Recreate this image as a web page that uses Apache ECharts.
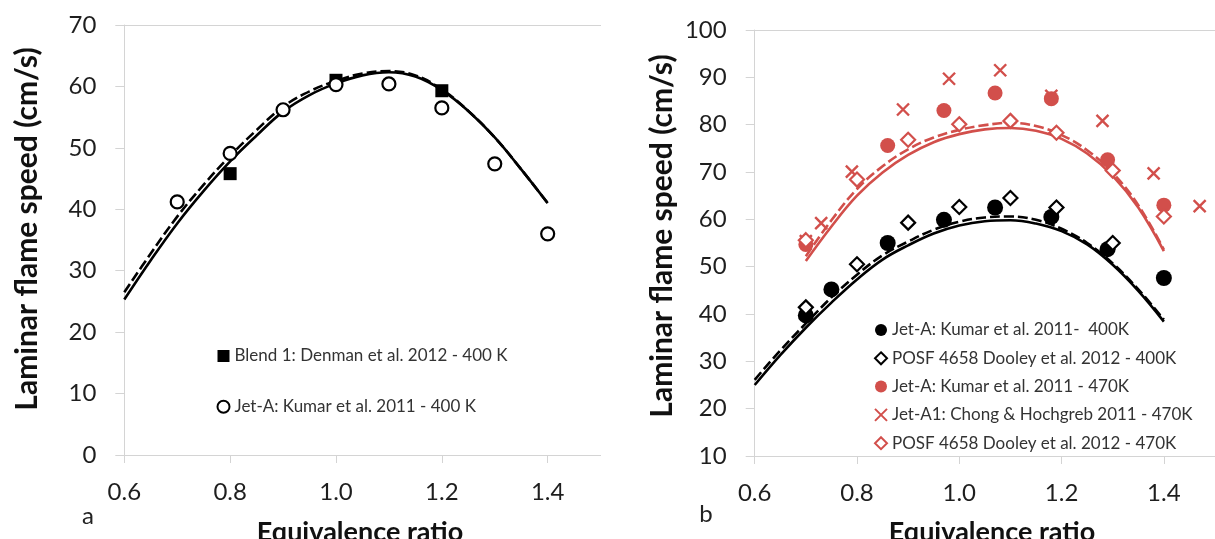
<!DOCTYPE html>
<html><head><meta charset="utf-8">
<script src="https://cdn.jsdelivr.net/npm/echarts@6/dist/echarts.min.js"></script>
<style>html,body{margin:0;padding:0;background:#fff}#c{width:1215px;height:539px}</style>
</head><body><div id="c"></div>
<script>
// ---------- data ----------
const xTicks = [0.6, 0.8, 1.0, 1.2, 1.4];

// panel a
const phiCurveA = [0.60,0.65,0.70,0.75,0.80,0.85,0.90,0.95,1.00,1.05,1.10,1.15,1.20,1.25,1.30,1.35,1.40];
const solidA  = [25.3,31.7,37.7,43.0,47.8,52.0,55.9,58.6,60.5,61.8,62.3,61.6,59.4,56.0,51.7,46.5,41.0];
const dashedA = [26.5,32.8,38.8,44.0,48.7,52.9,56.7,59.2,60.9,62.1,62.5,61.8,59.5,56.0,51.7,46.5,41.0];
const blendPhi   = [0.8, 1.0, 1.2];
const blendSpeed = [45.8, 61.0, 59.3];
const kumarPhiA   = [0.7, 0.8, 0.9, 1.0, 1.1, 1.2, 1.3, 1.4];
const kumarSpeedA = [41.2, 49.1, 56.2, 60.3, 60.4, 56.5, 47.4, 36.0];

// panel b
const phiCurveB = [0.60,0.65,0.70,0.75,0.80,0.85,0.90,0.95,1.00,1.05,1.10,1.15,1.20,1.25,1.30,1.35,1.40];
const solid400  = [25.0,31.3,37.1,42.4,47.3,51.5,54.5,57.0,58.7,59.6,59.8,59.1,57.5,54.7,50.4,44.9,38.4];
const dashed400 = [26.1,32.3,38.0,43.5,48.3,52.4,55.3,57.8,59.5,60.4,60.6,59.9,58.0,55.0,50.7,45.2,38.8];
const phiCurveR = [0.70,0.75,0.80,0.85,0.90,0.95,1.00,1.05,1.10,1.15,1.20,1.25,1.30,1.35,1.40];
const solid470  = [51.2,58.5,65.0,69.9,73.6,76.3,78.0,79.0,79.3,78.7,77.0,73.9,69.2,62.5,53.3];
const dashed470 = [52.2,59.8,66.4,71.2,74.8,77.3,78.9,79.9,80.4,79.7,77.8,74.6,69.8,63.0,53.6];

const kumar400Phi   = [0.70,0.75,0.86,0.97,1.07,1.18,1.29,1.40];
const kumar400Speed = [39.7,45.2,55.0,59.9,62.5,60.5,53.7,47.6];
const dooley400Phi   = [0.70,0.80,0.90,1.00,1.10,1.19,1.30];
const dooley400Speed = [41.4,50.5,59.3,62.6,64.5,62.5,55.0];
const kumar470Phi   = [0.70,0.86,0.97,1.07,1.18,1.29,1.40];
const kumar470Speed = [54.7,75.6,83.0,86.7,85.5,72.6,63.0];
const chongPhi   = [0.70,0.73,0.79,0.89,0.98,1.08,1.18,1.28,1.38,1.47];
const chongSpeed = [55.4,59.2,70.1,83.2,89.7,91.5,86.1,80.8,69.7,62.8];
const dooley470Phi   = [0.70,0.80,0.90,1.00,1.10,1.19,1.30,1.40];
const dooley470Speed = [55.6,68.4,76.8,80.1,80.8,78.3,70.3,60.6];

const namesA = ['Blend 1: Denman et al. 2012 - 400 K', 'Jet-A: Kumar et al. 2011 - 400 K'];
const namesB = ['Jet-A: Kumar et al. 2011-  400K', 'POSF 4658 Dooley et al. 2012 - 400K',
  'Jet-A: Kumar et al. 2011 - 470K', 'Jet-A1: Chong & Hochgreb 2011 - 470K', 'POSF 4658 Dooley et al. 2012 - 470K'];

// ---------- chart ----------
const FONT = 'Lato';
const RED = '#d24f4b';
const AX = '#d4d4d4';
const pair = (xs, ys) => xs.map((x, i) => [x, ys[i]]);

function bottomX(g) {
  return { type: 'value', gridIndex: g, min: 0.6, max: 1.5,
    axisLine: { show: true, lineStyle: { color: AX, width: 1 } },
    axisTick: { show: true, length: 8, customValues: xTicks, lineStyle: { color: AX } },
    axisLabel: { customValues: xTicks, formatter: v => v.toFixed(1), fontSize: 24, color: '#1e1e1e', margin: 25, fontFamily: FONT },
    splitLine: { show: false } };
}
function topX(g) {
  return { type: 'value', gridIndex: g, position: 'top', min: 0.6, max: 1.5,
    axisLine: { show: true, lineStyle: { color: AX, width: 1 } },
    axisTick: { show: false }, axisLabel: { show: false }, splitLine: { show: false } };
}
function leftY(g, mn, mx) {
  return { type: 'value', gridIndex: g, min: mn, max: mx, interval: 10,
    axisLine: { show: true, lineStyle: { color: AX, width: 1 } },
    axisTick: { show: true, length: 9, lineStyle: { color: AX } },
    axisLabel: { fontSize: 24, color: '#1e1e1e', margin: 28, fontFamily: FONT },
    splitLine: { show: false } };
}
function curve(xi, yi, xs, ys, color, dashed) {
  return { type: 'line', xAxisIndex: xi, yAxisIndex: yi, data: pair(xs, ys), smooth: 0.4,
    showSymbol: false, symbol: 'none', silent: true, z: 1,
    lineStyle: { color: color, width: 2.6, type: dashed ? [10, 4] : 'solid' } };
}
function pts(xi, yi, name, xs, ys, symbol, size, style) {
  return { type: 'scatter', name: name, xAxisIndex: xi, yAxisIndex: yi, data: pair(xs, ys),
    symbol: symbol, symbolSize: size, itemStyle: Object.assign({ opacity: 1 }, style), z: 3, silent: true };
}
const crossPath = 'path://M0,0L10,10M0,10L10,0';

const option = {
  animation: false,
  backgroundColor: '#fff',
  grid: [
    { left: 124.3, top: 25, width: 476.3, height: 430 },
    { left: 754.7, top: 30, width: 470.9, height: 426 }
  ],
  xAxis: [bottomX(0), topX(0), bottomX(1), topX(1)],
  yAxis: [leftY(0, 0, 70), leftY(1, 10, 100)],
  legend: [
    { data: namesA, orient: 'vertical', left: 211.5, top: 341, itemWidth: 12, itemHeight: 12, itemGap: 30.7,
      textStyle: { fontSize: 17, color: '#333', fontFamily: FONT, lineHeight: 20 }, selectedMode: false },
    { data: namesB, orient: 'vertical', left: 869, top: 315, itemWidth: 12, itemHeight: 12, itemGap: 8.3,
      textStyle: { fontSize: 17, color: '#333', fontFamily: FONT, lineHeight: 20 }, selectedMode: false }
  ],
  graphic: [
    { type: 'text', x: 27, y: 229, rotation: Math.PI / 2,
      style: { text: 'Laminar flame speed (cm/s)', fontSize: 30, fontWeight: 'bold', fontFamily: FONT, fill: '#111', align: 'center', verticalAlign: 'middle' } },
    { type: 'text', x: 662, y: 236, rotation: Math.PI / 2,
      style: { text: 'Laminar flame speed (cm/s)', fontSize: 30, fontWeight: 'bold', fontFamily: FONT, fill: '#111', align: 'center', verticalAlign: 'middle' } },
    { type: 'text', x: 360, y: 532,
      style: { text: 'Equivalence ratio', fontSize: 27, fontWeight: 'bold', fontFamily: FONT, fill: '#111', align: 'center', verticalAlign: 'middle' } },
    { type: 'text', x: 992, y: 532,
      style: { text: 'Equivalence ratio', fontSize: 27, fontWeight: 'bold', fontFamily: FONT, fill: '#111', align: 'center', verticalAlign: 'middle' } },
    { type: 'text', x: 88, y: 516,
      style: { text: 'a', fontSize: 24, fontFamily: FONT, fill: '#222', align: 'center', verticalAlign: 'middle' } },
    { type: 'text', x: 706, y: 514,
      style: { text: 'b', fontSize: 24, fontFamily: FONT, fill: '#222', align: 'center', verticalAlign: 'middle' } }
  ],
  series: [
    curve(0, 0, phiCurveA, solidA, '#000', false),
    curve(0, 0, phiCurveA, dashedA, '#000', true),
    pts(0, 0, namesA[0], blendPhi, blendSpeed, 'rect', 13, { color: '#000' }),
    pts(0, 0, namesA[1], kumarPhiA, kumarSpeedA, 'circle', 13, { color: '#fff', borderColor: '#000', borderWidth: 2.2 }),

    curve(2, 1, phiCurveB, solid400, '#000', false),
    curve(2, 1, phiCurveB, dashed400, '#000', true),
    curve(2, 1, phiCurveR, solid470, RED, false),
    curve(2, 1, phiCurveR, dashed470, RED, true),
    pts(2, 1, namesB[0], kumar400Phi, kumar400Speed, 'circle', 16, { color: '#000' }),
    pts(2, 1, namesB[1], dooley400Phi, dooley400Speed, 'diamond', 14, { color: '#fff', borderColor: '#000', borderWidth: 2.2 }),
    pts(2, 1, namesB[2], kumar470Phi, kumar470Speed, 'circle', 15, { color: RED }),
    pts(2, 1, namesB[3], chongPhi, chongSpeed, crossPath, 12, { color: 'rgba(0,0,0,0)', borderColor: RED, borderWidth: 2.4 }),
    pts(2, 1, namesB[4], dooley470Phi, dooley470Speed, 'diamond', 14, { color: '#fff', borderColor: RED, borderWidth: 2.2 })
  ]
};
const chart = echarts.init(document.getElementById('c'));
chart.setOption(option);
</script></body></html>
